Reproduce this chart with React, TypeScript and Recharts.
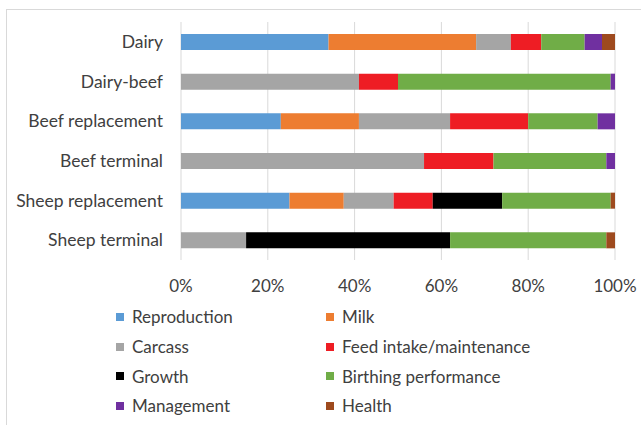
import { Bar, BarChart, CartesianGrid, XAxis, YAxis } from 'recharts';

const categories = [
  'Dairy',
  'Dairy-beef',
  'Beef replacement',
  'Beef terminal',
  'Sheep replacement',
  'Sheep terminal',
];

// share of each trait group (%) per breeding objective
const reproduction = [34, 0, 23, 0, 25, 0];
const milk = [34, 0, 18, 0, 12.5, 0];
const carcass = [8, 41, 21, 56, 11.5, 15];
const feedIntake = [7, 9, 18, 16, 9, 0];
const growth = [0, 0, 0, 0, 16, 47];
const birthing = [10, 49, 16, 26, 25, 36];
const management = [4, 1, 4, 2, 0, 0];
const health = [3, 0, 0, 0, 1, 2];

const xTicks = [0, 20, 40, 60, 80, 100];

const series = [
  { key: 'reproduction', name: 'Reproduction', color: '#5b9bd5', values: reproduction },
  { key: 'milk', name: 'Milk', color: '#ed7d31', values: milk },
  { key: 'carcass', name: 'Carcass', color: '#a5a5a5', values: carcass },
  { key: 'feed', name: 'Feed intake/maintenance', color: '#ee1d24', values: feedIntake },
  { key: 'growth', name: 'Growth', color: '#000000', values: growth },
  { key: 'birthing', name: 'Birthing performance', color: '#70ad47', values: birthing },
  { key: 'management', name: 'Management', color: '#7030a0', values: management },
  { key: 'health', name: 'Health', color: '#9e4a1e', values: health },
];

const rows = categories.map((name, i) => {
  const row: Record<string, string | number> = { name };
  series.forEach((s) => {
    row[s.key] = s.values[i];
  });
  return row;
});

const FONT = 'Lato, "Open Sans", sans-serif';
const TEXT = '#404040';

function LegendBlock() {
  return (
    <div
      style={{
        position: 'absolute',
        left: 116,
        top: 302,
        display: 'grid',
        gridTemplateColumns: '210px 260px',
        rowGap: 0,
        fontFamily: FONT,
        fontSize: 17,
        color: TEXT,
      }}
    >
      {series.map((s) => (
        <div key={s.key} style={{ display: 'flex', alignItems: 'center', height: 29.7 }}>
          <span
            style={{ width: 8, height: 8, background: s.color, display: 'inline-block', marginRight: 8 }}
          />
          <span>{s.name}</span>
        </div>
      ))}
    </div>
  );
}

export default function App() {
  return (
    <div
      style={{
        position: 'absolute',
        left: 0,
        top: 0,
        width: 641,
        height: 425,
        overflow: 'hidden',
        background: '#fff',
      }}
    >
      <div
        style={{
          position: 'absolute',
          left: 6,
          top: 9,
          width: 700,
          height: 500,
          borderTop: '1px solid #d9d9d9',
          borderLeft: '1px solid #d9d9d9',
        }}
      />
      <div style={{ position: 'absolute', left: 0, top: 0 }}>
        <BarChart
          width={641}
          height={300}
          data={rows}
          layout="vertical"
          margin={{ top: 22, right: 26, left: 0, bottom: 10 }}
          barSize={16}
        >
          <CartesianGrid horizontal={false} stroke="#d9d9d9" />
          <XAxis
            type="number"
            domain={[0, 100]}
            ticks={xTicks}
            tickFormatter={(v) => `${v}%`}
            axisLine={false}
            tickLine={false}
            tickMargin={14}
            height={30}
            tick={{ fill: TEXT, fontSize: 17, fontFamily: FONT }}
          />
          <YAxis
            type="category"
            dataKey="name"
            width={181}
            axisLine={false}
            tickLine={false}
            tickMargin={12}
            tick={{ fill: TEXT, fontSize: 17.5, fontFamily: FONT }}
          />
          {series.map((s) => (
            <Bar
              key={s.key}
              dataKey={s.key}
              name={s.name}
              stackId="a"
              fill={s.color}
              isAnimationActive={false}
            />
          ))}
        </BarChart>
      </div>
      <LegendBlock />
    </div>
  );
}
